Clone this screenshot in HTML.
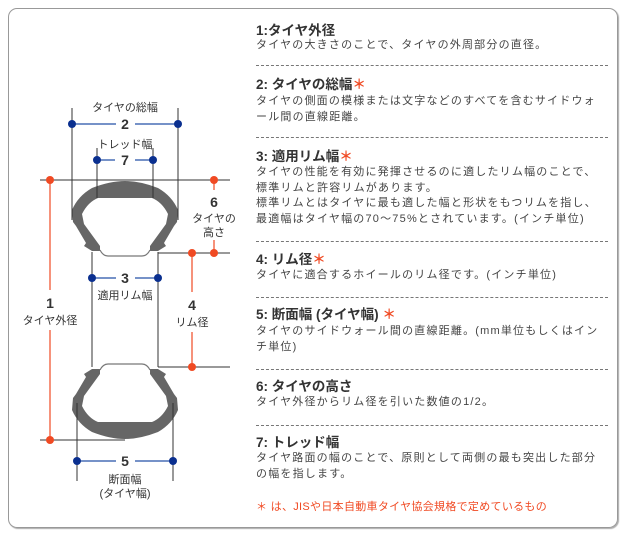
<!DOCTYPE html>
<html><head><meta charset="utf-8"><style>
html,body{margin:0;padding:0;background:#fff;width:625px;height:542px;overflow:hidden}
body{position:relative;font-family:"Liberation Sans","Noto Sans CJK JP",sans-serif;color:#333}
.frame{position:absolute;left:8px;top:8px;width:608px;height:518px;border:1px solid #999;border-radius:9px;box-shadow:1px 1px 1px #aaa}
.t{position:absolute;left:256px;white-space:nowrap}
.h{font-size:13.5px;font-weight:bold;color:#333;line-height:16px}
.b{font-size:11px;color:#444;letter-spacing:1.2px;line-height:15.7px}
.ast{color:#f04a23}
.d{position:absolute;left:256px;width:352px;border-top:1px dashed #777;height:0}
svg text{font-family:"Liberation Sans","Noto Sans CJK JP",sans-serif;fill:#333;text-anchor:middle}
</style></head><body>
<div class="frame"></div>
<svg width="625" height="542" style="position:absolute;left:0;top:0">
<defs>
<g id="tire">
<path d="M100,251 L92,251 L84,246 L86,243 L76,226 L73,222 L72,210 Q78,196 92,188 Q110,181 125,181 Q140,181 158,188 Q172,196 178,210 L177,222 L174,226 L164,243 L166,246 L158,251 L150,251 L150,246 L166,224 L168,214 Q162,202 152,198 L98,198 Q88,202 82,214 L84,224 L100,246 Z" fill="#666"/>
<path d="M100,250 Q103,256 108,256 L142,256 Q147,256 150,250" fill="none" stroke="#777" stroke-width="1.2"/>
</g>
</defs>
<use href="#tire"/>
<use href="#tire" transform="translate(0,620) scale(1,-1)"/>
<g stroke="#333" stroke-width="1" fill="none">
<line x1="72" y1="108" x2="72" y2="220"/><line x1="178" y1="108" x2="178" y2="220"/>
<line x1="97" y1="148" x2="97" y2="198"/><line x1="153" y1="148" x2="153" y2="198"/>
<line x1="40" y1="180" x2="230" y2="180"/>
<line x1="92" y1="252" x2="92" y2="367"/><line x1="158" y1="252" x2="158" y2="367"/>
<line x1="158" y1="253" x2="230" y2="253"/>
<line x1="158" y1="367" x2="230" y2="367"/>
<line x1="40" y1="440" x2="125" y2="440"/>
<line x1="77" y1="403" x2="77" y2="481"/><line x1="173" y1="403" x2="173" y2="481"/>
</g>
<g stroke="#2450a8" stroke-width="1.2">
<line x1="72" y1="124" x2="116" y2="124"/><line x1="135" y1="124" x2="178" y2="124"/>
<line x1="97" y1="160" x2="115" y2="160"/><line x1="135" y1="160" x2="153" y2="160"/>
<line x1="92" y1="278" x2="116" y2="278"/><line x1="135" y1="278" x2="158" y2="278"/>
<line x1="77" y1="461" x2="116" y2="461"/><line x1="135" y1="461" x2="173" y2="461"/>
</g>
<g fill="#0a2f8f">
<circle cx="72" cy="124" r="4"/><circle cx="178" cy="124" r="4"/>
<circle cx="97" cy="160" r="4"/><circle cx="153" cy="160" r="4"/>
<circle cx="92" cy="278" r="4"/><circle cx="158" cy="278" r="4"/>
<circle cx="77" cy="461" r="4"/><circle cx="173" cy="461" r="4"/>
</g>
<g stroke="#f04a23" stroke-width="1.2">
<line x1="50" y1="180" x2="50" y2="290"/><line x1="50" y1="330" x2="50" y2="440"/>
<line x1="214" y1="180" x2="214" y2="190"/><line x1="214" y1="240" x2="214" y2="253"/>
<line x1="192" y1="253" x2="192" y2="292"/><line x1="192" y1="332" x2="192" y2="367"/>
</g>
<g fill="#f04a23">
<circle cx="50" cy="180" r="4"/><circle cx="50" cy="440" r="4"/>
<circle cx="214" cy="180" r="4"/><circle cx="214" cy="253" r="4"/>
<circle cx="192" cy="253" r="4"/><circle cx="192" cy="367" r="4"/>
</g>
<g font-size="11">
<text x="125" y="111">タイヤの総幅</text>
<text x="125" y="148">トレッド幅</text>
<text x="125" y="299">適用リム幅</text>
<text x="50" y="324">タイヤ外径</text>
<text x="192" y="326">リム径</text>
<text x="214" y="222">タイヤの</text>
<text x="214" y="236">高さ</text>
<text x="125" y="483">断面幅</text>
<text x="125" y="497">(タイヤ幅)</text>
</g>
<g font-size="14" font-weight="bold">
<text x="125" y="129">2</text>
<text x="125" y="165">7</text>
<text x="125" y="283">3</text>
<text x="50" y="308">1</text>
<text x="192" y="310">4</text>
<text x="214" y="207">6</text>
<text x="125" y="466">5</text>
</g>
</svg>

<div class="t h" style="top:23px">1:タイヤ外径</div>
<div class="t b" style="top:38px">タイヤの大きさのことで、タイヤの外周部分の直径。</div>
<div class="d" style="top:65px"></div>

<div class="t h" style="top:77px">2: タイヤの総幅<span class="ast">＊</span></div>
<div class="t b" style="top:94px">タイヤの側面の模様または文字などのすべてを含むサイドウォ<br>ール間の直線距離。</div>
<div class="d" style="top:137px"></div>

<div class="t h" style="top:149px">3: 適用リム幅<span class="ast">＊</span></div>
<div class="t b" style="top:165px">タイヤの性能を有効に発揮させるのに適したリム幅のことで、<br>標準リムと許容リムがあります。<br>標準リムとはタイヤに最も適した幅と形状をもつリムを指し、<br>最適幅はタイヤ幅の70〜75%とされています。(インチ単位)</div>
<div class="d" style="top:241px"></div>

<div class="t h" style="top:252px">4: リム径<span class="ast">＊</span></div>
<div class="t b" style="top:268px">タイヤに適合するホイールのリム径です。(インチ単位)</div>
<div class="d" style="top:297px"></div>

<div class="t h" style="top:307px">5: 断面幅 (タイヤ幅) <span class="ast">＊</span></div>
<div class="t b" style="top:324px">タイヤのサイドウォール間の直線距離。(mm単位もしくはイン<br>チ単位)</div>
<div class="d" style="top:369px"></div>

<div class="t h" style="top:379px">6: タイヤの高さ</div>
<div class="t b" style="top:395px">タイヤ外径からリム径を引いた数値の1/2。</div>
<div class="d" style="top:425px"></div>

<div class="t h" style="top:435px">7: トレッド幅</div>
<div class="t b" style="top:451px">タイヤ路面の幅のことで、原則として両側の最も突出した部分<br>の幅を指します。</div>

<div class="t b" style="top:500px;color:#f04a23;letter-spacing:0.3px">＊ は、JISや日本自動車タイヤ協会規格で定めているもの</div>
</body></html>
